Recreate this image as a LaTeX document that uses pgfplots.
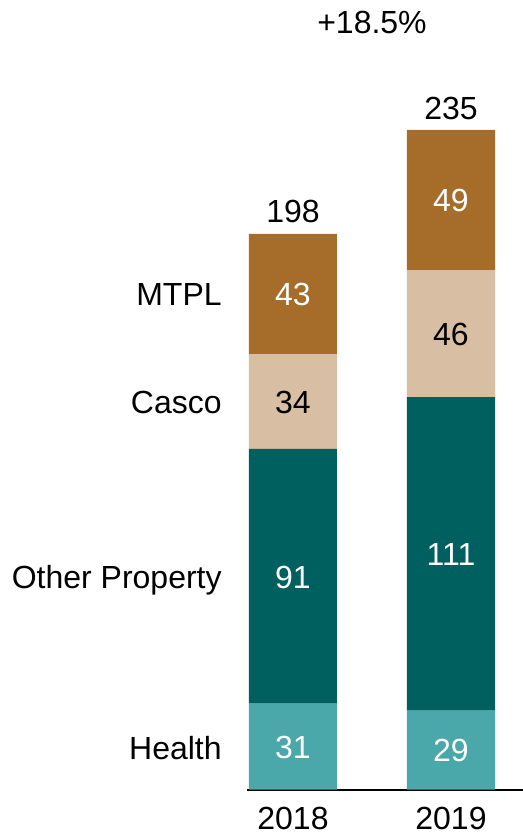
\documentclass[border=0pt]{standalone}
\usepackage{pgfplots}
\pgfplotsset{compat=1.18}
\usepackage{fontspec}
\setmainfont{Liberation Sans}

\definecolor{mtpl}{HTML}{A56C2A}
\definecolor{casco}{HTML}{D8BEA2}
\definecolor{otherprop}{HTML}{006060}
\definecolor{health}{HTML}{4AA7AA}

\begin{document}
\begin{tikzpicture}[font=\fontsize{16}{19}\selectfont]
\useasboundingbox (0,0) rectangle (261.5pt,418pt);
\pgfplotsset{
  base/.style={
    at={(123.5pt,23.25pt)}, anchor=south west,
    scale only axis, width=138pt, height=350.4pt,
    xmin=-0.2911, xmax=1.4557, ymin=0, ymax=250,
    enlargelimits=false, clip=false,
  },
  lbl/.style={only marks, mark=*, mark size=0pt,
    mark options={draw=none,fill=none},
    nodes near coords, point meta=explicit symbolic},
}
% stacked bars
\begin{axis}[base,
  ybar stacked, bar width=44pt,
  axis x line*=bottom, axis y line=none,
  x axis line style={-, line width=1pt},
  xtick={0,1}, xticklabels={2018,2019}, major tick length=0pt,
  xticklabel style={yshift=-5.5pt},
  ytick=\empty,
]
\addplot[fill=health, draw=none] coordinates {(0,30.6) (1,28.1)};
\addplot[fill=otherprop, draw=none] coordinates {(0,90.9) (1,111.9)};
\addplot[fill=casco, draw=none] coordinates {(0,33.8) (1,45.3)};
\addplot[fill=mtpl, draw=none] coordinates {(0,42.9) (1,50.0)};
\end{axis}
% labels
\begin{axis}[base, hide axis]
\addplot[lbl, every node near coord/.style={anchor=center, text=white, text depth=0pt}]
  coordinates {(0,176.5)[43] (0,75.8)[91] (0,15.0)[31]
               (1,210.0)[49] (1,83.8)[111] (1,13.8)[29]};
\addplot[lbl, every node near coord/.style={anchor=center, text=black, text depth=0pt}]
  coordinates {(0,138.0)[34] (1,162.3)[46]
               (0,206.2)[198] (1,243.0)[235] (0.5,273.6)[+18.5\%]};
\addplot[lbl, every node near coord/.style={anchor=east, inner sep=0pt, text=black, text depth=0pt}]
  coordinates {(-0.449,176.5)[MTPL] (-0.449,138.0)[Casco]
               (-0.449,75.8)[Other Property] (-0.449,15.0)[Health]};
\end{axis}
\end{tikzpicture}
\end{document}
